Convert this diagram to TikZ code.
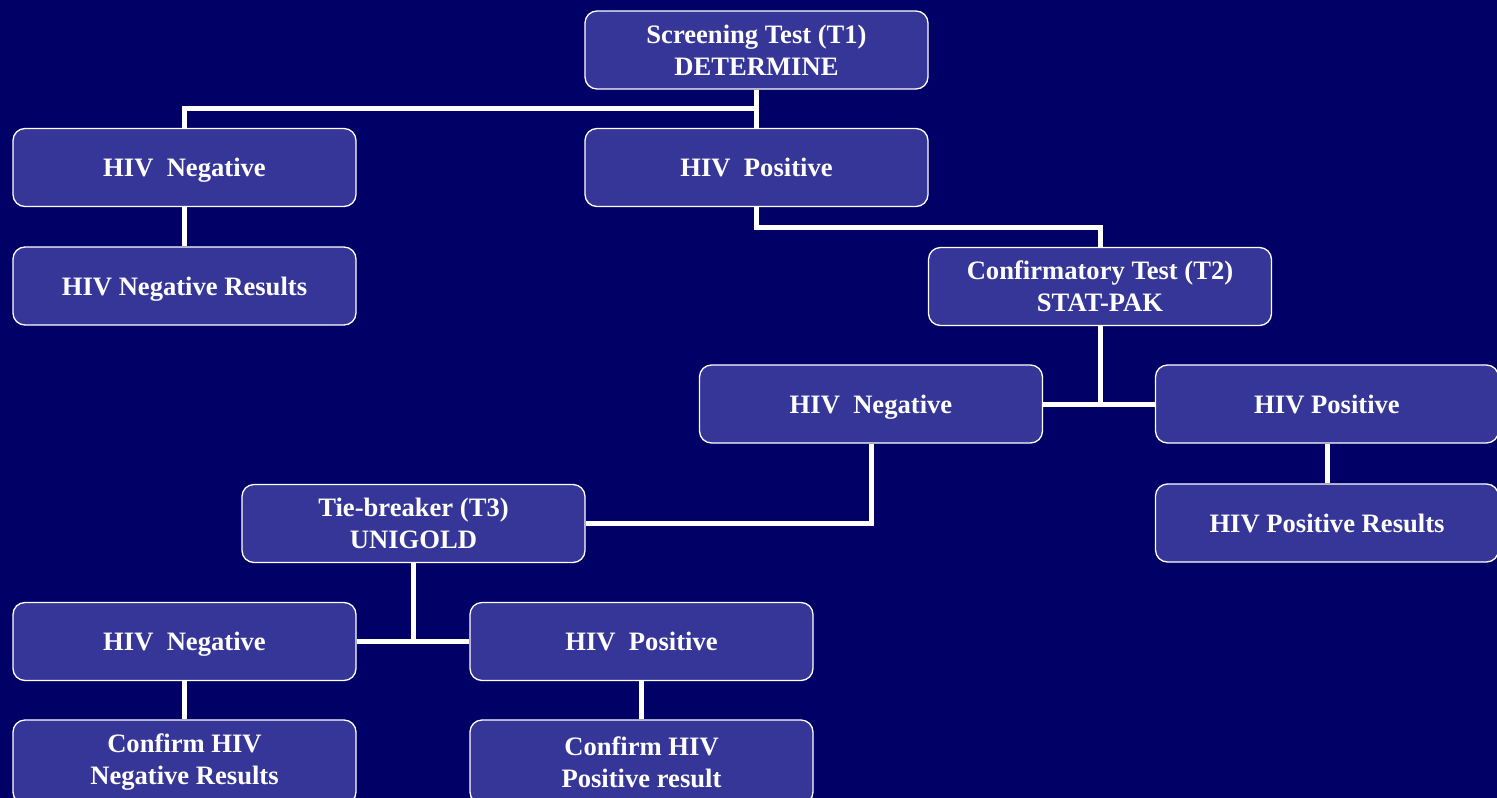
\documentclass[tikz,border=0pt]{standalone}
\usepackage{fontspec}
\setmainfont{Liberation Serif}
\usepackage{tikz}
\definecolor{navy}{RGB}{0,0,102}
\definecolor{boxblue}{RGB}{54,54,153}
\tikzset{
  block/.style  = {shape=rectangle, rounded corners=12pt,
                   draw=white, line width=1.3pt, fill=boxblue,
                   text=white, align=center, inner sep=0pt,
                   minimum width=343pt, minimum height=78pt,
                   font=\bfseries\fontsize{26.6}{32}\selectfont},
  test/.style   = {block},
  single/.style = {block, text height=24pt, text depth=6pt},
  result/.style = {block, minimum height=84pt},
  link/.style   = {draw=white, line width=5pt},
}

\begin{document}
\begin{tikzpicture}[x=1pt, y=-1pt]
  \fill [navy] (0,0) rectangle (1497,798);
  \useasboundingbox (0,0) rectangle (1497,798);

  \node [test]   (t1)      at (756.5,50)   {Screening Test (T1)\\DETERMINE};
  \node [single] (neg1)    at (184.5,167.5) {HIV\ \ Negative};
  \node [single] (pos1)    at (756.5,167.5) {HIV\ \ Positive};
  \node [single] (negres)  at (184.5,286)  {HIV Negative Results};
  \node [test]   (t2)      at (1100,286.5) {Confirmatory Test (T2)\\STAT-PAK};
  \node [single] (neg2)    at (871,404)    {HIV\ \ Negative};
  \node [single] (pos2)    at (1327,404)   {HIV Positive};
  \node [single] (posres)  at (1327,523)   {HIV Positive Results};
  \node [test]   (t3)      at (413.5,523.5) {Tie-breaker (T3)\\UNIGOLD};
  \node [single] (neg3)    at (184.5,641.5) {HIV\ \ Negative};
  \node [single] (pos3)    at (641.5,641.5) {HIV\ \ Positive};
  \node [result] (confneg) at (184.5,762)  {Confirm HIV\\Negative Results};
  \node [result] (confpos) at (641.5,762)  {Confirm HIV\\Positive result};

  % screening
  \draw [link] (t1.south) -- (pos1.north);
  \draw [link] (t1.south |- 0,108) -- (neg1.north |- 0,108) -- (neg1.north);
  \draw [link] (neg1) -- (negres);
  \draw [link] (pos1.south) -- ++(0,20) -| (t2.north);
  % confirmatory
  \draw [link] (t2.south) -- (t2.south |- pos2.west);
  \draw [link] (neg2.east) -- (pos2.west);
  \draw [link] (pos2) -- (posres);
  \draw [link] (neg2.south) |- (t3.east);
  % tie-breaker
  \draw [link] (t3.south) -- (t3.south |- pos3.west);
  \draw [link] (neg3.east) -- (pos3.west);
  \draw [link] (neg3) -- (confneg);
  \draw [link] (pos3) -- (confpos);
\end{tikzpicture}
\end{document}
